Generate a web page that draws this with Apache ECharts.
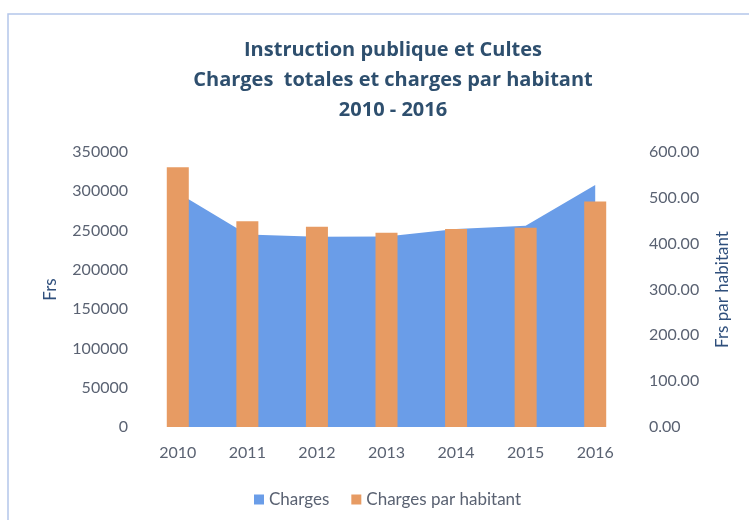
<!DOCTYPE html>
<html>
<head>
<meta charset="utf-8">
<script src="https://cdn.jsdelivr.net/npm/echarts@6/dist/echarts.min.js"></script>
<style>
  html, body { margin: 0; padding: 0; background: #fff; }
  #chart { width: 749px; height: 520px; }
</style>
</head>
<body>
<div id="chart"></div>
<script>
// données
const years = ['2010', '2011', '2012', '2013', '2014', '2015', '2016']
const charges = [298000, 245000, 242000, 242500, 252000, 256000, 308000]
const chargesParHabitant = [567, 449, 437, 424, 432, 435, 492]

const titleLines = ['Instruction publique et Cultes', 'Charges  totales et charges par habitant', '2010 - 2016']

const FONT = 'Lato, "Open Sans", sans-serif'
const LABEL_COLOR = '#5a6272'
const NAME_COLOR = '#2f4f7c'

const chart = echarts.init(document.getElementById('chart'), null, { renderer: 'canvas' })

chart.setOption({
  backgroundColor: '#fff',
  animation: false,
  textStyle: { fontFamily: FONT },
  graphic: [
    // cadre du graphique
    {
      type: 'rect',
      shape: { x: 8, y: 14, width: 760, height: 530 },
      style: { fill: 'none', stroke: '#b4c6ea', lineWidth: 1.5 },
      silent: true
    }
  ],
  title: {
    text: titleLines.join('\n'),
    left: 388,
    textAlign: 'center',
    top: 30,
    textStyle: {
      fontFamily: '"Open Sans", sans-serif',
      fontSize: 20,
      fontWeight: 'bold',
      color: '#2e4f6e',
      lineHeight: 30
    }
  },
  legend: {
    data: ['Charges', 'Charges par habitant'],
    left: 249,
    top: 486,
    icon: 'rect',
    itemWidth: 10,
    itemHeight: 10,
    itemGap: 22,
    textStyle: { fontFamily: FONT, fontSize: 17, color: LABEL_COLOR }
  },
  grid: {
    left: 143,
    right: 119,
    top: 152,
    bottom: 93,
    containLabel: false
  },
  xAxis: {
    type: 'category',
    data: years,
    boundaryGap: true,
    axisLine: { show: false },
    axisTick: { show: false },
    axisLabel: { fontFamily: FONT, fontSize: 16, color: LABEL_COLOR, margin: 18 }
  },
  yAxis: [
    {
      type: 'value',
      min: 0,
      max: 350000,
      interval: 50000,
      name: 'Frs',
      nameLocation: 'middle',
      nameRotate: 90,
      nameGap: 84,
      nameTextStyle: { fontFamily: FONT, fontSize: 17, color: NAME_COLOR },
      axisLine: { show: false },
      axisTick: { show: false },
      splitLine: { show: false },
      axisLabel: {
        fontFamily: FONT,
        fontSize: 16,
        color: LABEL_COLOR,
        margin: 15,
        formatter: v => String(v)
      }
    },
    {
      type: 'value',
      min: 0,
      max: 600,
      interval: 100,
      position: 'right',
      name: 'Frs par habitant',
      nameLocation: 'middle',
      nameRotate: 90,
      nameGap: 84,
      nameTextStyle: { fontFamily: FONT, fontSize: 17, color: NAME_COLOR },
      axisLine: { show: false },
      axisTick: { show: false },
      splitLine: { show: false },
      axisLabel: {
        fontFamily: FONT,
        fontSize: 16,
        color: LABEL_COLOR,
        margin: 19,
        formatter: v => v.toFixed(2)
      }
    }
  ],
  series: [
    {
      name: 'Charges',
      type: 'line',
      yAxisIndex: 0,
      z: 1,
      data: charges,
      symbol: 'none',
      lineStyle: { width: 0, color: '#6a9de8' },
      itemStyle: { color: '#6a9de8' },
      areaStyle: { color: '#6a9de8', opacity: 1 }
    },
    {
      name: 'Charges par habitant',
      type: 'bar',
      yAxisIndex: 1,
      z: 5,
      data: chargesParHabitant,
      barWidth: 22,
      itemStyle: { color: '#e79b63' }
    }
  ]
})
</script>
</body>
</html>
